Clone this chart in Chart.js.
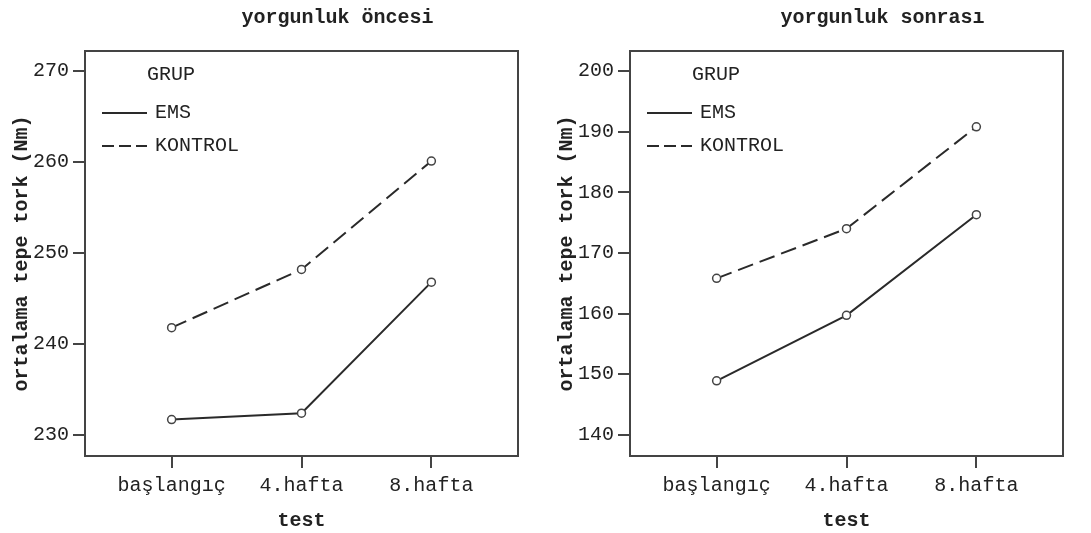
<!DOCTYPE html>
<html>
<head>
<meta charset="utf-8">
<script src="https://cdn.jsdelivr.net/npm/chart.js@4"></script>
<style>
  html, body { margin: 0; padding: 0; background: #fff; }
  .panel { position: absolute; top: 0; height: 533px; }
  #p1 { left: 0; width: 545px; }
  #p2 { left: 545px; width: 546px; }
</style>
</head>
<body>
<div class="panel" id="p1"><canvas id="c1"></canvas></div>
<div class="panel" id="p2"><canvas id="c2"></canvas></div>
<script>
// ------------------ DADOS ------------------
const testLabels = ["başlangıç", "4.hafta", "8.hafta"];
const groupNames = ["EMS", "KONTROL"];

const onceEMS = [231.7, 232.4, 246.8];
const onceKontrol = [241.8, 248.2, 260.1];
const onceTicks = [230, 240, 250, 260, 270];

const sonraEMS = [148.9, 159.7, 176.3];
const sonraKontrol = [165.8, 174.0, 190.8];
const sonraTicks = [140, 150, 160, 170, 180, 190, 200];

const FONT = "'Liberation Mono', 'Courier New', monospace";
const INK = "#222";

// título deslocado, caixa em volta da área do gráfico + legenda interna
const boxAndLegend = {
    id: "boxAndLegend",
    afterDraw(chart, args, opts) {
        const { ctx, chartArea } = chart;
        ctx.save();
        ctx.strokeStyle = "#444";
        ctx.lineWidth = 2;
        ctx.strokeRect(chartArea.left, chartArea.top, chartArea.right - chartArea.left, chartArea.bottom - chartArea.top);

        // título do painel
        ctx.font = "bold 20px " + FONT;
        ctx.fillStyle = INK;
        ctx.textAlign = "center";
        ctx.textBaseline = "middle";
        ctx.fillText(opts.text, (chartArea.left + chartArea.right) / 2 + 36, 18);

        const l = chartArea.left, t = chartArea.top;
        ctx.font = "20px " + FONT;
        ctx.textAlign = "left";
        ctx.fillText("GRUP", l + 62, t + 24);

        chart.data.datasets.forEach((ds, i) => {
            const y = t + 62 + i * 33;
            ctx.strokeStyle = ds.borderColor;
            ctx.lineWidth = 2;
            ctx.setLineDash(i === 0 ? [] : [12, 5]);
            ctx.beginPath();
            ctx.moveTo(l + 17, y);
            ctx.lineTo(l + 62, y);
            ctx.stroke();
            ctx.setLineDash([]);
            ctx.fillText(ds.label, l + 70, y);
        });
        ctx.restore();
    }
};

function toPoints(arr) {
    return arr.map((v, i) => ({ x: i, y: v }));
}

function createPanel(canvasId, title, emsData, kontrolData, yTicks, yMin, yMax, rightPad) {
    const ctx = document.getElementById(canvasId);
    const lineStyle = {
        borderColor: "#2a2a2a",
        borderWidth: 2,
        pointRadius: 4,
        pointBorderWidth: 1.5,
        pointBorderColor: "#444",
        pointBackgroundColor: "#fff",
        tension: 0,
        fill: false
    };
    return new Chart(ctx, {
        type: "line",
        data: {
            datasets: [
                { label: groupNames[0], data: toPoints(emsData), ...lineStyle },
                { label: groupNames[1], data: toPoints(kontrolData), borderDash: [16, 7], ...lineStyle }
            ]
        },
        options: {
            responsive: true,
            maintainAspectRatio: false,
            animation: false,
            layout: { padding: { left: 0, right: rightPad, top: 51, bottom: 0 } },
            scales: {
                x: {
                    type: "linear",
                    min: -0.667,
                    max: 2.667,
                    afterBuildTicks: (scale) => { scale.ticks = testLabels.map((_, i) => ({ value: i })); },
                    afterFit: (scale) => { scale.height = 77; },
                    ticks: {
                        callback: (value) => testLabels[value],
                        color: INK,
                        font: { family: FONT, size: 20 },
                        padding: 6,
                        maxRotation: 0
                    },
                    grid: { drawOnChartArea: false, tickLength: 12, color: "#444", lineWidth: 2 },
                    border: { display: false },
                    title: {
                        display: true,
                        text: "test",
                        color: INK,
                        font: { family: FONT, size: 20, weight: "bold" },
                        padding: { top: 4, bottom: 0 }
                    }
                },
                y: {
                    min: yMin,
                    max: yMax,
                    afterBuildTicks: (scale) => { scale.ticks = yTicks.map(v => ({ value: v })); },
                    afterFit: (scale) => { scale.width = 85; },
                    ticks: {
                        color: INK,
                        font: { family: FONT, size: 20 },
                        padding: 4
                    },
                    grid: { drawOnChartArea: false, tickLength: 12, color: "#444", lineWidth: 2 },
                    border: { display: false },
                    title: {
                        display: true,
                        text: "ortalama tepe tork (Nm)",
                        color: INK,
                        font: { family: FONT, size: 20, weight: "bold" },
                        padding: { top: 10, bottom: 4 }
                    }
                }
            },
            plugins: {
                legend: { display: false },
                tooltip: { enabled: false },
                title: { display: false },
                boxAndLegend: { text: title }
            }
        },
        plugins: [boxAndLegend]
    });
}

createPanel("c1", "yorgunluk öncesi", onceEMS, onceKontrol, onceTicks, 227.7, 272.2, 27);
createPanel("c2", "yorgunluk sonrası", sonraEMS, sonraKontrol, sonraTicks, 136.5, 203.3, 28);
</script>
</body>
</html>
